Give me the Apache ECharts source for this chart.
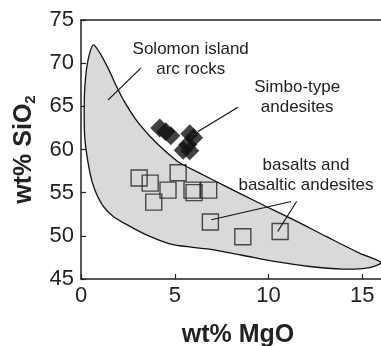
<!DOCTYPE html>
<html><head><meta charset="utf-8">
<script src="https://cdn.jsdelivr.net/npm/echarts@6/dist/echarts.min.js"></script>
<style>html,body{margin:0;padding:0;background:#fff}#c{width:381px;height:346px}</style>
</head><body><div id="c"></div>
<script>
// MgO (wt%), SiO2 (wt%)
const simboAndesites = [[4.20,62.48],[4.52,62.05],[4.79,61.59],[5.80,61.82],[6.01,61.35],[5.69,60.54],[5.45,59.91],[5.80,59.85]];
const basalts = [[3.10,56.7],[3.69,56.1],[5.18,57.3],[4.64,55.3],[3.88,53.9],[5.92,55.3],[6.03,55.0],[6.81,55.3],[6.90,51.6],[8.63,49.9],[10.62,50.5]];
// outline of Solomon island arc field
const arcField = [[0.65,72.1],[1.0,71.2],[1.45,69.4],[1.85,67.5],[2.3,65.6],[2.95,63.4],[3.65,61.6],[4.4,60.0],[5.3,58.4],[6.3,57.3],[7.75,55.7],[9.5,53.8],[11.3,51.9],[13.1,49.9],[14.85,48.0],[16.0,46.9],[15.2,46.25],[13.95,46.15],[12.2,46.45],[10.4,47.0],[8.6,47.75],[6.85,48.45],[4.91,48.97],[3.67,49.93],[2.61,51.1],[1.72,52.25],[1.19,53.4],[0.74,55.3],[0.48,57.27],[0.21,61.12],[0.17,64.6],[0.22,67.7],[0.38,70.4]];
const leaders = [[3.19,69.42,1.45,65.75],[6.24,62.08,8.37,64.9],[11.21,53.98,6.95,51.86],[11.5,53.98,10.49,50.5]];
const labels = [[5.85,70.46,'Solomon island\narc rocks'],[11.53,66.0,'Simbo-type\nandesites'],[12.0,57.04,'basalts and\nbasaltic andesites']];
const xTicks = {min:0,max:16,interval:5};
const yTicks = {min:45,max:75,interval:5};

const FONT = 'Liberation Sans, Arial, Helvetica, sans-serif';
const chart = echarts.init(document.getElementById('c'));
chart.setOption({
  animation:false,
  grid:{left:81,right:0,top:20,bottom:67,show:false,containLabel:false,outerBoundsMode:'none'},
  xAxis:[{type:'value',min:xTicks.min,max:xTicks.max,interval:xTicks.interval,
    name:'wt% MgO',nameLocation:'middle',nameGap:44,
    nameTextStyle:{fontSize:25,fontWeight:'bold',color:'#222',fontFamily:FONT,padding:[0,0,0,14]},
    axisLine:{lineStyle:{color:'#222',width:1.5}},
    axisTick:{inside:true,length:5,lineStyle:{color:'#222',width:1.2}},
    axisLabel:{fontSize:22,color:'#222',fontFamily:FONT,margin:6,showMaxLabel:false},
    splitLine:{show:false}},
   {type:'value',position:'top',min:xTicks.min,max:xTicks.max,
    axisLine:{show:true,lineStyle:{color:'#222',width:1.5}},
    axisTick:{show:false},axisLabel:{show:false},splitLine:{show:false}}],
  yAxis:{type:'value',min:yTicks.min,max:yTicks.max,interval:yTicks.interval,
    name:'wt% SiO{s|2}',nameLocation:'middle',nameGap:43,
    nameTextStyle:{fontSize:25,fontWeight:'bold',color:'#222',fontFamily:FONT,
      rich:{s:{fontSize:15,fontWeight:'bold',color:'#222',fontFamily:FONT,padding:[12,0,0,0]}}},
    axisLine:{lineStyle:{color:'#222',width:1.5}},
    axisTick:{inside:true,length:5,lineStyle:{color:'#222',width:1.2}},
    axisLabel:{fontSize:22,color:'#222',fontFamily:FONT,margin:7},
    splitLine:{show:false}},
  series:[
    {type:'custom',z:1,data:[0],clip:true,
      renderItem:function(p,api){
        return {type:'polygon',shape:{points:arcField.map(d=>api.coord(d)),smooth:0.3},
          style:{fill:'#d9d9d9',stroke:'#111',lineWidth:1.3}};
      }},
    {type:'custom',z:2,data:leaders,
      renderItem:function(p,api){
        const a=api.coord([api.value(0),api.value(1)]),b=api.coord([api.value(2),api.value(3)]);
        return {type:'line',shape:{x1:a[0],y1:a[1],x2:b[0],y2:b[1]},style:{stroke:'#111',lineWidth:1.2}};
      }},
    {type:'scatter',z:3,data:basalts,symbol:'rect',symbolSize:16,
      itemStyle:{color:'rgba(0,0,0,0)',borderColor:'#222',borderWidth:1.4}},
    {type:'scatter',z:4,data:simboAndesites,symbol:'diamond',symbolSize:19,
      itemStyle:{color:'#111',borderWidth:0}},
    {type:'custom',z:5,data:labels,
      renderItem:function(p,api){
        const c=api.coord([api.value(0),api.value(1)]);
        return {type:'text',x:c[0],y:c[1],style:{text:labels[p.dataIndex][2],fontSize:17,lineHeight:20,
          fontFamily:FONT,fill:'#222',align:'center',verticalAlign:'middle'}};
      }}
  ]
});
</script></body></html>
